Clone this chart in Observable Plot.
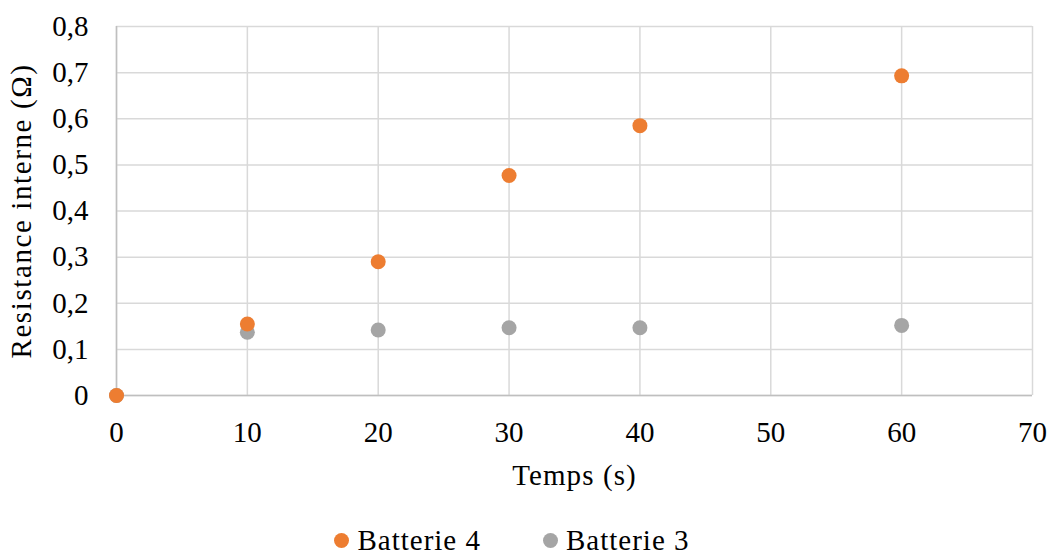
<!DOCTYPE html>
<html>
<head>
<meta charset="utf-8">
<script src="https://cdn.jsdelivr.net/npm/d3@7"></script>
<script src="https://cdn.jsdelivr.net/npm/@observablehq/plot@0.6"></script>
<style>
  body { margin: 0; background: #fff; font-family: "Liberation Serif", "Times New Roman", serif; }
  #chart { width: 1054px; }
  .legend { display: flex; justify-content: center; align-items: center; gap: 62px; font-size: 29px; letter-spacing: 1px; color: #000; margin-top: 24px; padding-right: 30px; line-height: 1.15; }
  .legend .item { display: flex; align-items: center; }
  .legend .sw { width: 15px; height: 15px; border-radius: 50%; display: inline-block; margin-right: 8px; }
</style>
</head>
<body>
<div id="chart"></div>
<script>
// Temps (s) of each measurement
const temps = [0, 10, 20, 30, 40, 60];
// Internal resistance (Ω) per battery
const batterie4 = [0, 0.155, 0.290, 0.477, 0.585, 0.693];
const batterie3 = [0, 0.137, 0.142, 0.147, 0.147, 0.152];
const seriesNames = ["Batterie 4", "Batterie 3"];
const seriesColors = ["#ED7D31", "#A5A5A5"];
const xTicks = [0, 10, 20, 30, 40, 50, 60, 70];
const yTicks = [0, 0.1, 0.2, 0.3, 0.4, 0.5, 0.6, 0.7, 0.8];
const xLabel = "Temps (s)";
const yLabel = "Resistance interne (Ω)";

const rows = [];
// grey series first so the orange one sits on top where they overlap
temps.forEach((t, i) => rows.push({t, r: batterie3[i], s: "Batterie 3"}));
temps.forEach((t, i) => rows.push({t, r: batterie4[i], s: "Batterie 4"}));

const fmt = d => d === 0 ? "0" : d.toFixed(1).replace(".", ",");

const chart = Plot.plot({
  width: 1054,
  height: 500,
  marginLeft: 116,
  marginRight: 22,
  marginTop: 26,
  marginBottom: 105,
  style: { fontFamily: "Liberation Serif, Times New Roman, serif", fontSize: "29px", color: "#000", background: "#fff" },
  x: { domain: [0, 70] },
  y: { domain: [0, 0.8] },
  color: { domain: seriesNames, range: seriesColors },
  marks: [
    Plot.gridX(xTicks, { stroke: "#D9D9D9", strokeOpacity: 1, strokeWidth: 1.5 }),
    Plot.gridY(yTicks, { stroke: "#D9D9D9", strokeOpacity: 1, strokeWidth: 1.5 }),
    Plot.ruleX([0], { stroke: "#BFBFBF", strokeWidth: 1.5 }),
    Plot.ruleY([0], { stroke: "#BFBFBF", strokeWidth: 1.5 }),
    Plot.axisX(xTicks, { tickSize: 0, tickPadding: 26, fontSize: 29, label: xLabel, labelAnchor: "center", labelArrow: "none", labelOffset: 89 }),
    Plot.axisY(yTicks, { tickSize: 0, tickPadding: 28, tickFormat: fmt, fontSize: 29, label: yLabel, labelAnchor: "center", labelArrow: "none", labelOffset: 106 }),
    Plot.dot(rows, { x: "t", y: "r", fill: "s", r: 7.5, stroke: "none" })
  ]
});

// widen the axis titles slightly
d3.select(chart).selectAll("text")
  .filter(function () { return this.textContent === xLabel; })
  .style("letter-spacing", "1.1px");
d3.select(chart).selectAll("text")
  .filter(function () { return this.textContent === yLabel; })
  .style("letter-spacing", "1.6px");

document.getElementById("chart").appendChild(chart);

const legend = document.createElement("div");
legend.className = "legend";
seriesNames.forEach((n, i) => {
  const item = document.createElement("span");
  item.className = "item";
  const sw = document.createElement("span");
  sw.className = "sw";
  sw.style.background = seriesColors[i];
  item.appendChild(sw);
  item.appendChild(document.createTextNode(n));
  legend.appendChild(item);
});
document.getElementById("chart").appendChild(legend);
</script>
</body>
</html>
